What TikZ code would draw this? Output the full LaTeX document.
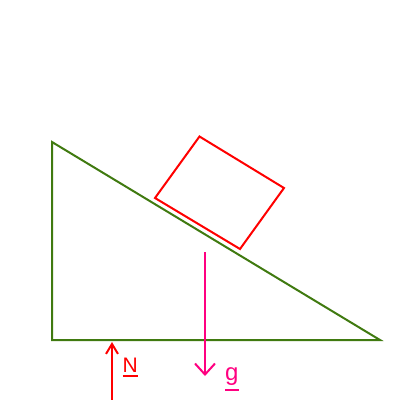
\documentclass[tikz,border=0pt]{standalone}
\usepackage{fontspec}
\setmainfont{Liberation Sans}
\usetikzlibrary{arrows.meta}
\definecolor{slopegreen}{RGB}{64,122,16}
\definecolor{forcepink}{RGB}{255,0,128}
\definecolor{forcered}{RGB}{255,0,0}
\newcommand\ulbox[2]{\setbox0\hbox{#1}\leavevmode\rlap{\rule[#2]{\wd0}{2pt}}\box0}
\tikzset{
  edge/.style={line width=2pt, line join=miter},
  lbl/.style={inner sep=0pt}
}
\begin{document}
\begin{tikzpicture}[x=1pt,y=-1pt]
\useasboundingbox (0,0) rectangle (400,400);
% incline
\coordinate (A) at (52,142);
\coordinate (B) at (52,340);
\coordinate (C) at (380,340);
\draw[edge, slopegreen] (A) -- (B) -- (C) -- cycle;
% block
\coordinate (P1) at (199.5,136.5);
\coordinate (P2) at (284,188);
\coordinate (P3) at (240,249);
\coordinate (P4) at (155,198);
\draw[edge, forcered] (P1) -- (P2) -- (P3) -- (P4) -- cycle;
% gravity
\coordinate (g0) at (205,252);
\coordinate (g1) at (205,376);
\draw[edge, forcepink, -{Straight Barb[length=11pt,width=20pt,line width=2pt]}] (g0) -- (g1);
\node[lbl, text=forcepink, anchor=base west, font=\fontsize{24}{26}\selectfont] (g) at (225,380.5) {\ulbox{g}{-10.8pt}};
% normal
\coordinate (n0) at (112,400);
\coordinate (n1) at (112,342);
\draw[edge, forcered, -{Straight Barb[length=10pt,width=12pt,line width=2pt]}] (n0) -- (n1);
\node[lbl, text=forcered, anchor=base west, font=\fontsize{21}{23}\selectfont] (N) at (122.5,372.5) {\ulbox{N}{-4.7pt}};
\end{tikzpicture}
\end{document}
